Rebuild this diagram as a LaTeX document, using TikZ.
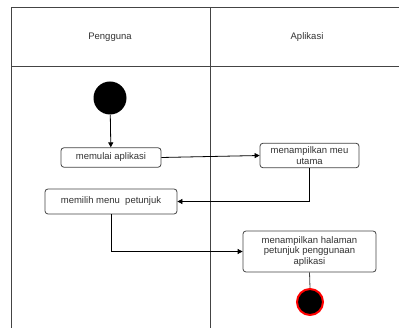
\documentclass[tikz,border=0pt]{standalone}
\usepackage{fontspec}
\setmainfont{Liberation Sans}
\usetikzlibrary{arrows.meta}
\definecolor{linec}{HTML}{444444}
\definecolor{textc}{HTML}{333333}
\definecolor{endred}{HTML}{FF0000}
\begin{document}
\begin{tikzpicture}[x=1pt,y=-1pt,
  act/.style={draw=linec,line width=0.8pt,rounded corners=3pt,fill=white,align=center,
    font=\fontsize{9.5}{10.5}\selectfont,text=textc,inner sep=0pt},
  lbl/.style={font=\fontsize{9.5}{11}\selectfont,text=textc},
  frame/.style={draw=linec,line width=0.8pt},
  flow/.style={draw=black,line width=0.8pt,-{Triangle[length=5pt,width=5pt]}},
  plain/.style={draw=linec,line width=0.8pt}]
\useasboundingbox (0,0) rectangle (399,328);
\fill[white] (0,0) rectangle (399,328);
% swimlanes
\draw[frame] (11,328) -- (11,7) -- (400,7);
\draw[frame] (11,66) -- (400,66);
\draw[frame] (210,7) -- (210,328);
\node[lbl] (h1) at (110,37) {Pengguna};
\node[lbl] (h2) at (307,37) {Aplikasi};
% nodes
\node[circle,fill=black,minimum size=33pt,inner sep=0pt] (start) at (110,98) {};
\node[act,minimum width=100pt,minimum height=19.5pt] (a1) at (111,157.5) {memulai aplikasi};
\node[act,minimum width=99pt,minimum height=24.5pt] (a2) at (309.5,155.5) {menampilkan meu\\utama};
\node[act,minimum width=132pt,minimum height=25pt] (a3) at (111,201.5) {memilih menu\ \ petunjuk};
\node[act,minimum width=133pt,minimum height=41pt] (a4) at (309.5,251.5) {menampilkan halaman\\petunjuk penggunaan\\aplikasi};
\node[circle,fill=black,draw=endred,line width=2pt,minimum size=26pt,inner sep=0pt] (end) at (310,302) {};
% connectors
\draw[flow] (start) -- (a1);
\draw[flow] (a1.east) -- (a2.west);
\draw[flow] (a2.south) |- (a3.east);
\draw[flow] (a3.south) |- (a4.west);
\draw[plain] (a4.south) -- (end.north);
\end{tikzpicture}
\end{document}
